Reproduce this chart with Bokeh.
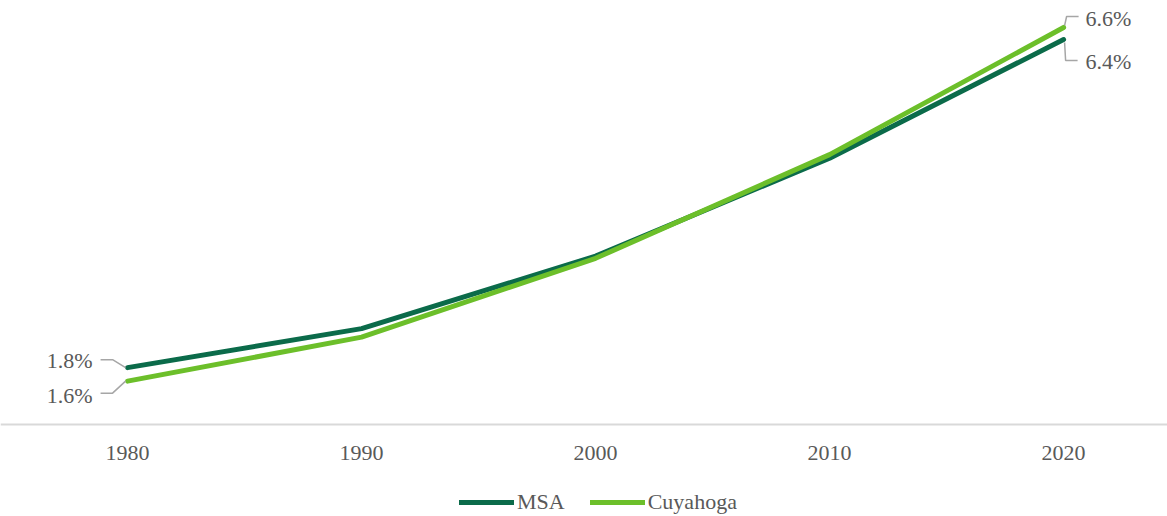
from bokeh.plotting import figure
from bokeh.models import Range1d, Legend, LegendItem, FixedTicker
from bokeh.core.properties import value
from bokeh.embed import file_html
from bokeh.resources import INLINE

years = [1980, 1990, 2000, 2010, 2020]
tick_labels = ["1980", "1990", "2000", "2010", "2020"]
msa = [1.80, 2.35, 3.37, 4.75, 6.42]
cuyahoga = [1.61, 2.23, 3.34, 4.80, 6.59]
series_names = ["MSA", "Cuyahoga"]
colors = ["#0b6b4a", "#6cbf2a"]
baseline = 1.0

FONT = "Liberation Serif"
GREY = "#595959"

FW, FH = 1167, 516
x0, x1 = 1974.57, 2024.44
y0, y1 = -0.296, 6.97
dxp = (x1 - x0) / FW
dyp = (y1 - y0) / FH

p = figure(frame_width=FW, frame_height=FH, output_backend="svg",
           toolbar_location=None, x_range=Range1d(x0, x1), y_range=Range1d(y0, y1),
           y_axis_location=None, min_border_left=0, min_border_right=0,
           min_border_top=0, min_border_bottom=0)
p.outline_line_color = None
p.grid.visible = False

ax = p.xaxis[0]
ax.fixed_location = baseline
ax.ticker = FixedTicker(ticks=years)
ax.major_label_overrides = {y: l for y, l in zip(years, tick_labels)}
ax.axis_line_color = "#d9d9d9"
ax.axis_line_width = 2
ax.major_tick_line_color = None
ax.minor_tick_line_color = None
ax.major_label_text_font = FONT
ax.major_label_text_font_size = "22px"
ax.major_label_text_color = GREY
ax.major_label_standoff = 16

r1 = p.line(years, msa, line_color=colors[0], line_width=5, line_cap="round")
r2 = p.line(years, cuyahoga, line_color=colors[1], line_width=5, line_cap="round")

def leader(xd, yd, pts):
    xs = [xd + dx * dxp for dx, dy in pts]
    ys = [yd - dy * dyp for dx, dy in pts]
    p.line(xs, ys, line_color="#a6a6a6", line_width=1.5)

def label(xd, yd, txt, dx, dy, align):
    p.text(x=[xd], y=[yd], text=[txt], x_offset=dx, y_offset=dy,
           text_font=value(FONT), text_font_size="22px", text_color=GREY,
           text_align=align, text_baseline="middle")

# start labels
leader(years[0], msa[0], [(-2, 0), (-15, -8), (-27, -8)])
leader(years[0], cuyahoga[0], [(-2, 0), (-15, 12), (-27, 12)])
label(years[0], msa[0], f"{msa[0]:.1f}%", -35, -7, "right")
label(years[0], cuyahoga[0], f"{cuyahoga[0]:.1f}%", -35, 14, "right")
# end labels
leader(years[-1], cuyahoga[-1], [(1, -2), (3, -11), (15, -11)])
leader(years[-1], msa[-1], [(1, 3), (2, 21), (14, 21)])
label(years[-1], cuyahoga[-1], f"{cuyahoga[-1]:.1f}%", 22, -9, "left")
label(years[-1], msa[-1], f"{msa[-1]:.1f}%", 22, 22, "left")

legend = Legend(items=[LegendItem(label=series_names[0], renderers=[r1]),
                       LegendItem(label=series_names[1], renderers=[r2])],
                orientation="horizontal", location=(459, 1),
                border_line_color=None, background_fill_alpha=0,
                label_text_font=FONT, label_text_font_size="22px",
                label_text_color=GREY, glyph_width=55, glyph_height=20,
                label_standoff=3, spacing=25, padding=0, margin=0)
p.add_layout(legend, "center")

open("out.html", "w").write(file_html(p, INLINE))
